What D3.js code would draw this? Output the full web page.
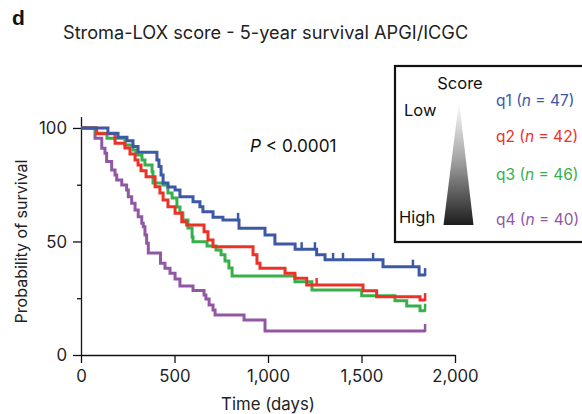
<!DOCTYPE html>
<html>
<head>
<meta charset="utf-8">
<script src="https://cdn.jsdelivr.net/npm/d3@7"></script>
<style>
  body { margin: 0; background: #fff; }
  svg { display: block; font-family: Inter, "Liberation Sans", Arial, sans-serif; }
</style>
</head>
<body>
<svg id="chart" width="582" height="414"></svg>
<script>
// Kaplan-Meier steps: [day, survival %] at each drop
const q1Steps = [[0, 100], [144, 97.7], [198, 95.9], [246, 94.4], [278, 91.8], [305, 89.3], [406, 85.9], [417, 83.0], [428, 79.3], [439, 75.8], [465, 74.0], [503, 72.7], [529, 69.7], [599, 67.5], [636, 65.3], [652, 63.1], [706, 60.7], [759, 59.5], [845, 55.8], [984, 52.9], [1037, 48.9], [1145, 46.6], [1260, 44.1], [1305, 41.9], [1615, 38.9], [1808, 35.2], [1840, 35.2]]
const q2Steps = [[0, 100], [84, 97.4], [182, 93.3], [235, 91.2], [262, 88.5], [289, 85.9], [305, 83.7], [321, 81.1], [348, 78.5], [396, 74.1], [422, 71.4], [439, 68.3], [465, 65.3], [503, 62.4], [539, 58.7], [565, 57.3], [658, 54.3], [679, 50.7], [706, 47.7], [920, 44.1], [941, 40.4], [957, 38.2], [1091, 36.0], [1144, 33.8], [1207, 30.8], [1508, 28.3], [1581, 25.7], [1813, 24.2], [1840, 24.2]]
const q3Steps = [[0, 100], [80, 97.7], [139, 95.5], [235, 92.5], [278, 90.3], [294, 88.1], [326, 85.9], [342, 83.7], [380, 80.7], [385, 75.8], [439, 74.9], [465, 71.4], [487, 69.2], [513, 65.2], [529, 62.6], [545, 59.5], [572, 55.9], [594, 52.0], [599, 49.9], [674, 48.0], [722, 46.3], [749, 44.1], [770, 41.4], [791, 38.3], [808, 34.8], [1144, 32.3], [1235, 28.6], [1501, 26.1], [1679, 23.9], [1742, 21.6], [1813, 19.5], [1840, 19.5]]
const q4Steps = [[0, 100], [75, 95.5], [111, 91.1], [128, 88.9], [137, 85.2], [164, 81.5], [182, 79.3], [191, 77.1], [218, 74.9], [244, 72.7], [253, 69.7], [271, 66.8], [289, 63.9], [306, 60.9], [325, 58.0], [333, 56.5], [342, 52.9], [351, 49.2], [360, 44.9], [425, 40.4], [449, 38.2], [476, 36.0], [503, 33.5], [529, 30.4], [599, 28.4], [658, 26.4], [668, 24.7], [685, 22.0], [706, 19.8], [717, 17.6], [872, 15.4], [984, 10.6], [1840, 10.6]]

// censored observations (days)
const q1Censor = [840, 1180, 1251, 1348, 1401, 1562, 1775, 1840]
const q2Censor = [1260, 1840]
const q3Censor = [1840]
const q4Censor = [1840]

const groupNames = ['q1', 'q2', 'q3', 'q4']
const groupN = [47, 42, 46, 40]
const groupColors = ['#3d58a7', '#ec3127', '#37b04b', '#9157a5']

const xTicks = [0, 500, 1000, 1500, 2000]
const yMajor = [0, 50, 100]
const yMinor = [25, 75]

const svg = d3.select('#chart')

const x = d3.scaleLinear().domain([0, 2000]).range([81, 455])
const y = d3.scaleLinear().domain([0, 105]).range([355, 116.6])

// panel letter + title
svg.append('text')
  .attr('x', 12).attr('y', 25)
  .attr('font-size', 21).attr('font-weight', 'bold')
  .attr('font-family', '"Liberation Sans", Arial, sans-serif')
  .attr('fill', '#111')
  .text('d')

svg.append('text')
  .attr('x', 63).attr('y', 39)
  .attr('font-size', 18.2)
  .attr('fill', '#222')
  .text('Stroma-LOX score - 5-year survival APGI/ICGC')

// axes
const xAxis = svg.append('g')
  .attr('transform', `translate(0, ${y(0)})`)
  .call(d3.axisBottom(x).tickValues(xTicks).tickSize(8).tickSizeOuter(0).tickPadding(6)
    .tickFormat(d3.format(',')))
const yAxis = svg.append('g')
  .attr('transform', `translate(${x(0)}, 0)`)
  .call(d3.axisLeft(y).tickValues(yMajor).tickSize(8).tickSizeOuter(0).tickPadding(6))
svg.append('g')
  .attr('transform', `translate(${x(0)}, 0)`)
  .call(d3.axisLeft(y).tickValues(yMinor).tickSize(4).tickFormat(''))
  .call(g => g.select('.domain').remove())

svg.selectAll('.tick text')
  .attr('font-size', 16.8)
  .attr('fill', '#222')
  .attr('font-family', 'Inter, "Liberation Sans", Arial, sans-serif')
svg.selectAll('.domain, .tick line').attr('stroke', '#111').attr('stroke-width', 1.3)
xAxis.selectAll('.tick text').attr('dy', '0.8em')
yAxis.selectAll('.tick text').attr('dy', '0.35em')

svg.append('text')
  .attr('x', 268).attr('y', 410)
  .attr('text-anchor', 'middle')
  .attr('font-size', 16.8).attr('fill', '#222')
  .text('Time (days)')

svg.append('text')
  .attr('transform', `translate(27, ${y(50)}) rotate(-90)`)
  .attr('text-anchor', 'middle')
  .attr('font-size', 16).attr('fill', '#222')
  .text('Probability of survival')

svg.append('text')
  .attr('x', 250).attr('y', 152)
  .attr('font-size', 17.2).attr('fill', '#111')
  .call(t => t.append('tspan').attr('font-style', 'italic').text('P'))
  .call(t => t.append('tspan').text(' < 0.0001'))

// survival curves
const line = d3.line()
  .x(d => x(d[0]))
  .y(d => y(d[1]))
  .curve(d3.curveStepAfter)

const allSteps = [q1Steps, q2Steps, q3Steps, q4Steps]
const allCensor = [q1Censor, q2Censor, q3Censor, q4Censor]

function survAt (steps, t) {
  let s = steps[0][1]
  steps.forEach(d => { if (d[0] <= t) s = d[1] })
  return s
}

// draw purple first so blue ends on top like the figure
;[3, 2, 1, 0].forEach(i => {
  const g = svg.append('g')
  g.append('path')
    .datum(allSteps[i])
    .attr('fill', 'none')
    .attr('stroke', groupColors[i])
    .attr('stroke-width', 3)
    .attr('d', line)
  g.selectAll('line.censor')
    .data(allCensor[i])
    .join('line')
    .attr('class', 'censor')
    .attr('x1', d => x(d)).attr('x2', d => x(d))
    .attr('y1', d => y(survAt(allSteps[i], d)) + 1)
    .attr('y2', d => y(survAt(allSteps[i], d)) - 7)
    .attr('stroke', groupColors[i])
    .attr('stroke-width', 2.5)
})

// legend box
const legend = svg.append('g')
legend.append('rect')
  .attr('x', 395).attr('y', 66)
  .attr('width', 200).attr('height', 176)
  .attr('fill', '#fff')
  .attr('stroke', '#111')
  .attr('stroke-width', 2.2)

const defs = svg.append('defs')
const grad = defs.append('linearGradient')
  .attr('id', 'scoreGrad')
  .attr('x1', 0).attr('y1', 0).attr('x2', 0).attr('y2', 1)
grad.append('stop').attr('offset', '0%').attr('stop-color', '#ffffff')
grad.append('stop').attr('offset', '45%').attr('stop-color', '#a8a8a8')
grad.append('stop').attr('offset', '100%').attr('stop-color', '#1d1d1d')

legend.append('path')
  .attr('d', 'M459,101 L473.5,225 L443.5,225 Z')
  .attr('fill', 'url(#scoreGrad)')

legend.append('text')
  .attr('x', 460).attr('y', 89)
  .attr('text-anchor', 'middle')
  .attr('font-size', 16.5).attr('fill', '#111')
  .text('Score')
legend.append('text')
  .attr('x', 404).attr('y', 116)
  .attr('font-size', 16.5).attr('fill', '#111')
  .text('Low')
legend.append('text')
  .attr('x', 399).attr('y', 223)
  .attr('font-size', 16.5).attr('fill', '#111')
  .text('High')

const legendY = [106, 142, 180, 225]
groupNames.forEach((name, i) => {
  const t = legend.append('text')
    .attr('x', 496).attr('y', legendY[i])
    .attr('font-size', 15.5)
    .attr('fill', groupColors[i])
  t.append('tspan').text(name + ' (')
  t.append('tspan').attr('font-style', 'italic').text('n')
  t.append('tspan').text(' = ' + groupN[i] + ')')
})
</script>
</body>
</html>
